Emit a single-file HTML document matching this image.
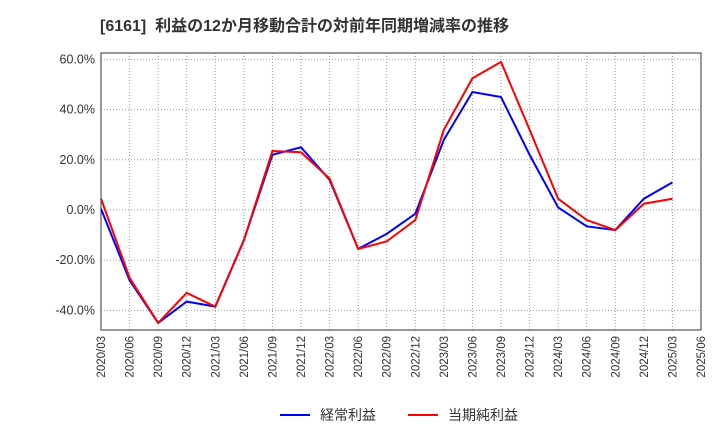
<!DOCTYPE html>
<html><head><meta charset="utf-8"><style>
body{margin:0;background:#fff;}
svg text{font-family:"Liberation Sans","Noto Sans CJK JP",sans-serif;}
</style></head><body>
<svg id="chart" width="720" height="440" xmlns="http://www.w3.org/2000/svg">
<text x="100" y="31" font-size="16" font-weight="bold" fill="#333" xml:space="preserve">[6161]  利益の12か月移動合計の対前年同期増減率の推移</text>
<g id="grid"></g><g id="axes"></g><g id="series"></g>
<g>
<line x1="280" y1="415" x2="310" y2="415" stroke="#0000ff" stroke-width="2"/>
<text x="320" y="420" font-size="14" fill="#333">経常利益</text>
<line x1="408" y1="415" x2="438" y2="415" stroke="#ff0000" stroke-width="2"/>
<text x="448" y="420" font-size="14" fill="#333">当期純利益</text>
</g>
</svg>
<script>
const categories=["2020/03","2020/06","2020/09","2020/12","2021/03","2021/06","2021/09","2021/12","2022/03","2022/06","2022/09","2022/12","2023/03","2023/06","2023/09","2023/12","2024/03","2024/06","2024/09","2024/12","2025/03","2025/06"];
const keijo=[0.5,-28,-45,-36.5,-38.5,-12,22,25,12,-15.5,-9.5,-1.5,28,47,45,22,1,-6.5,-8,4.5,11];
const junri=[4.5,-27,-45,-33,-38.5,-12,23.5,23,12.5,-15.5,-12.5,-4,32,52.5,59,32,4.5,-4,-8,2.5,4.5];
const yTicks=[-40,-20,0,20,40,60];
const L=101,R=701,T=53,B=330;
const x=i=>L+(R-L)*i/(categories.length-1);
const y=v=>210-v*50.2/20;
const NS="http://www.w3.org/2000/svg";
function mk(tag,attrs,parent){const e=document.createElementNS(NS,tag);for(const k in attrs)e.setAttribute(k,attrs[k]);document.getElementById(parent).appendChild(e);return e;}
categories.forEach((c,i)=>{
  const g=mk("line",{x1:x(i),x2:x(i),y1:T,y2:B,stroke:"#999","stroke-dasharray":"1,2","stroke-width":1},"grid");
  
  
  const t=mk("text",{x:0,y:0,"font-size":11.5,fill:"#333","text-anchor":"end",transform:`translate(${x(i)+4},${B+6}) rotate(-90)`},"axes");
  t.textContent=c;
  
  
});
yTicks.forEach(v=>{
  const g=mk("line",{x1:L,x2:R,y1:y(v),y2:y(v),stroke:"#999","stroke-dasharray":"1,2","stroke-width":1},"grid");
  
  
  const t=mk("text",{x:L-6,y:y(v)+4,"font-size":12.5,fill:"#333","text-anchor":"end"},"axes");
  t.textContent=v.toFixed(1)+"%";
  
  
});
const f=mk("rect",{x:L,y:T,width:R-L,height:B-T,fill:"none",stroke:"#333","stroke-width":1},"axes");


const p1=mk("polyline",{points:keijo.map((v,i)=>x(i)+","+y(v)).join(" "),fill:"none",stroke:"#0000ff","stroke-width":2},"series");


const p2=mk("polyline",{points:junri.map((v,i)=>x(i)+","+y(v)).join(" "),fill:"none",stroke:"#ff0000","stroke-width":2},"series");


</script>
</body></html>
